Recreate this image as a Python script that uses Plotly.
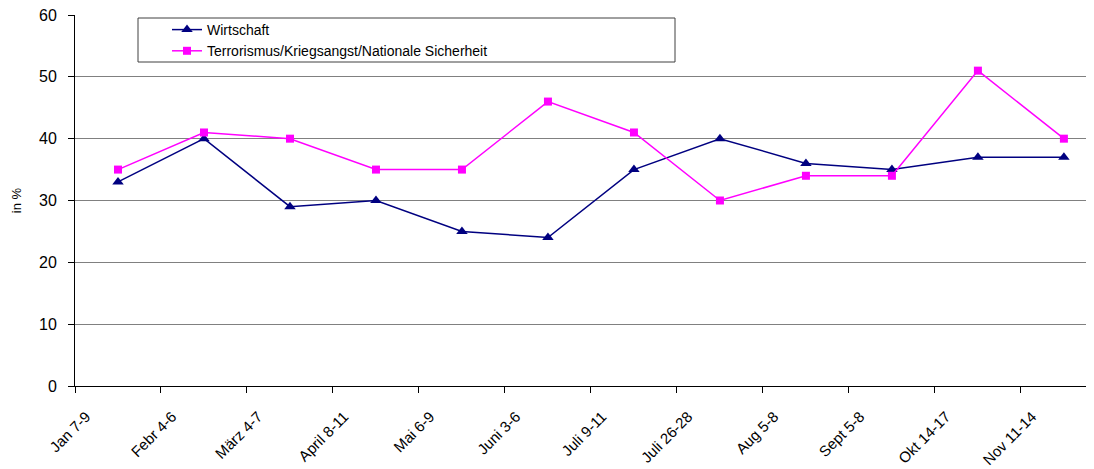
import plotly.graph_objects as go

categories = ["Jan 7-9", "Febr 4-6", "März 4-7", "April 8-11", "Mai 6-9", "Juni 3-6",
              "Juli 9-11", "Juli 26-28", "Aug 5-8", "Sept 5-8", "Okt 14-17", "Nov 11-14"]
wirtschaft = [33, 40, 29, 30, 25, 24, 35, 40, 36, 35, 37, 37]
terror = [35, 41, 40, 35, 35, 46, 41, 30, 34, 34, 51, 40]
y_ticks = [0, 10, 20, 30, 40, 50, 60]

# points sit between tick marks (category centres), labels at tick marks
n = len(categories)
x_pts = [i + 0.5 for i in range(n)]
x_ticks = list(range(n))
x_labels_pos = [i + 0.13 for i in range(n)]

FONT = "Liberation Sans, Arial, sans-serif"

# page body has an 8px default margin; compensate so the chart sits where the reference has it
W, H = 1086, 461
ML, MT, MB, MR = 67, 7, 83, 0
PW, PH = W - ML - MR, H - MT - MB  # plot area in px

def px_x(px):  # absolute page px -> paper fraction
    return (px - 8 - ML) / PW

def px_y(py):
    return 1 - (py - 8 - MT) / PH

fig = go.Figure()
fig.add_trace(go.Scatter(
    x=x_pts, y=wirtschaft, name="Wirtschaft", mode="lines+markers",
    line=dict(color="#000080", width=1.5),
    marker=dict(symbol="triangle-up", size=10, color="#000080"),
))
fig.add_trace(go.Scatter(
    x=x_pts, y=terror, name="Terrorismus/Kriegsangst/Nationale Sicherheit", mode="lines+markers",
    line=dict(color="#FF00FF", width=1.5),
    marker=dict(symbol="square", size=8, color="#FF00FF"),
))

# legend frame (Excel-style box, wider than its text)
fig.add_shape(type="rect", xref="paper", yref="paper",
              x0=px_x(138), x1=px_x(675), y0=px_y(62), y1=px_y(18),
              line=dict(color="#404040", width=1), fillcolor="white", layer="above")

fig.update_layout(
    width=W, height=H,
    margin=dict(l=ML, r=MR, t=MT, b=MB, autoexpand=False),
    paper_bgcolor="white", plot_bgcolor="white",
    font=dict(family=FONT, size=13, color="black"),
    showlegend=True,
    legend=dict(
        x=px_x(167), y=px_y(14), xanchor="left", yanchor="top",
        borderwidth=0, bgcolor="rgba(0,0,0,0)",
        font=dict(family=FONT, size=14),
        itemwidth=30, tracegroupgap=0,
    ),
    xaxis=dict(
        range=[0, 11.85], tickmode="array", tickvals=x_labels_pos, ticktext=categories,
        tickangle=-45, ticks="", ticklabelstandoff=15,
        minor=dict(tickmode="array", tickvals=x_ticks, ticks="outside", ticklen=6,
                   tickcolor="black", showgrid=False),
        showline=True, linecolor="black", linewidth=1,
        showgrid=False, zeroline=False, automargin=False,
        tickfont=dict(family=FONT, size=15),
    ),
    yaxis=dict(
        range=[0, 60], tickmode="array", tickvals=y_ticks,
        ticks="outside", ticklen=6, tickcolor="black",
        showline=True, linecolor="black", linewidth=1,
        showgrid=True, gridcolor="#808080", gridwidth=1,
        zeroline=False, ticklabelstandoff=8, automargin=False,
        ticklabeloverflow="allow",
        tickfont=dict(family=FONT, size=16),
        title=dict(text="in %", font=dict(family=FONT, size=13), standoff=14),
    ),
)

fig.write_html("out.html")
